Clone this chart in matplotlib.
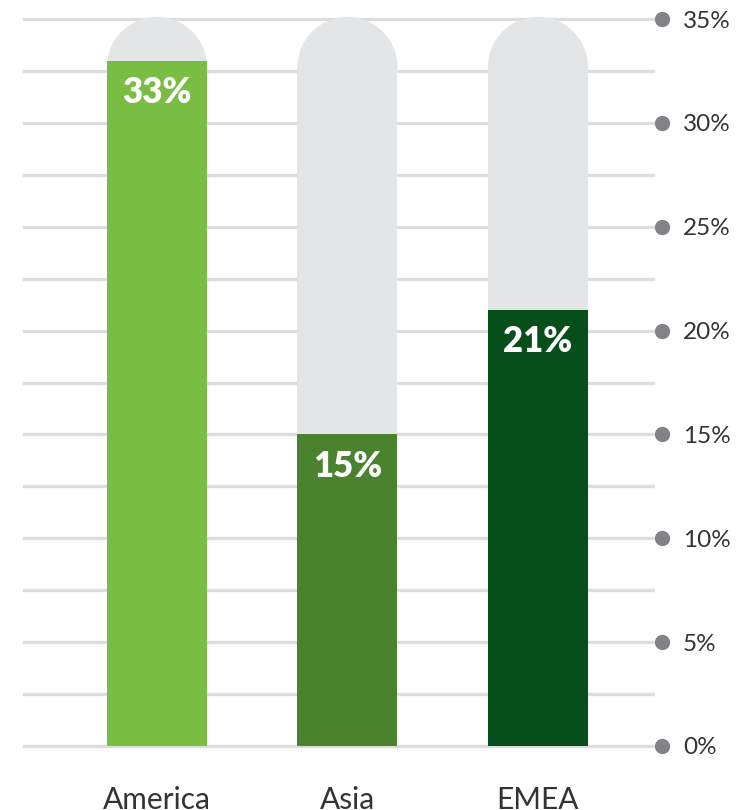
import matplotlib
matplotlib.use("Agg")
import matplotlib.pyplot as plt
from matplotlib.patches import Ellipse
from matplotlib.transforms import blended_transform_factory
import numpy as np

plt.rcParams['font.family'] = ['Lato', 'DejaVu Sans']

# Data
regions = ["America", "Asia", "EMEA"]
shares = [33, 15, 21]
bar_colors = ["#79bd42", "#4a822d", "#064e1a"]
y_ticks = [0, 5, 10, 15, 20, 25, 30, 35]
y_tick_labels = ["0%", "5%", "10%", "15%", "20%", "25%", "30%", "35%"]

W, H, DPI = 755, 810, 100
fig = plt.figure(figsize=(W / DPI, H / DPI), dpi=DPI)
ax = fig.add_axes([24 / W, 64 / H, (653 - 24) / W, (791 - 64) / H])

x = np.arange(len(regions))
bar_w = 0.525
y_max = y_ticks[-1]
ax.set_xlim(-0.698, 2.604)
ax.set_ylim(0, y_max)

# Grid lines every 2.5%
for g in np.arange(0, y_max + 0.01, 2.5):
    ax.axhline(g, color="#dddddd", lw=2.4, zorder=0, clip_on=False)

# Track shape: rectangle with a rounded top reaching the axis maximum
ax_h_px = 791 - 64
ax_w_px = 653 - 24
px_per_x = ax_w_px / (ax.get_xlim()[1] - ax.get_xlim()[0])
px_per_y = ax_h_px / y_max
cap_r_px = bar_w * px_per_x / 2
cap_h = 2 * cap_r_px / px_per_y
cap_c = y_max + 0.1 - cap_h / 2
for xi in x:
    ax.bar(xi, cap_c, width=bar_w, color="#e4e5e7", zorder=1, linewidth=0)
    ax.add_patch(Ellipse((xi, cap_c), bar_w, cap_h, color="#e4e5e7",
                         zorder=1, lw=0, clip_on=False))

# Value bars
ax.bar(x, shares, width=bar_w, color=bar_colors, zorder=2, linewidth=0)
for xi, v in zip(x, shares):
    ax.annotate(f"{v}%", (xi, v), xytext=(0, -23), textcoords="offset points",
                ha="center", va="center", color="white", fontsize=25,
                fontweight="heavy", zorder=3)

# Right-hand axis with dot markers
ax.yaxis.tick_right()
ax.set_yticks(y_ticks)
ax.set_yticklabels(y_tick_labels, fontsize=17.5, color="#333333")
ax.tick_params(axis="y", length=0, pad=21.5)
trans = blended_transform_factory(ax.transAxes, ax.transData)
ax.plot(np.full(len(y_ticks), 1 + 9 / ax_w_px), y_ticks, "o", ms=10,
        color="#838387", transform=trans, clip_on=False, zorder=4)

# Region labels
ax.set_xticks(x)
ax.set_xticklabels(regions, fontsize=21.5, color="#333333")
ax.tick_params(axis="x", length=0, pad=28.5)

for s in ax.spines.values():
    s.set_visible(False)

fig.savefig("out.png", dpi=DPI)
